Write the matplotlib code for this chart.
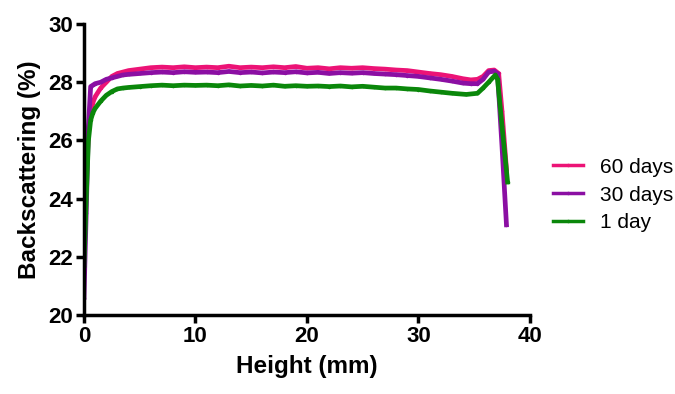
import matplotlib
matplotlib.use("Agg")
import matplotlib.pyplot as plt

plt.rcParams['font.family'] = ['Liberation Sans', 'DejaVu Sans']

labels = ["60 days", "30 days", "1 day"]
colors = ["#EC1376", "#8B0FA3", "#0A870A"]

x_60 = [0.0, 0.2, 0.4, 0.6, 0.8, 1.0, 1.5, 2.0, 2.5, 3.0, 3.5, 4.0, 5.0, 6.0, 7.0, 8.0,
        9.0, 10.0, 11.0, 12.0, 13.0, 14.0, 15.0, 16.0, 17.0, 18.0, 19.0, 20.0, 21.0,
        22.0, 23.0, 24.0, 25.0, 26.0, 27.0, 28.0, 29.0, 30.0, 31.0, 32.0, 33.0, 34.0,
        34.7, 35.3, 35.8, 36.3, 36.8, 37.2, 37.5, 37.9]
y_60 = [22.0, 24.6, 26.3, 27.0, 27.3, 27.5, 27.8, 28.0, 28.2, 28.3, 28.35, 28.4, 28.45,
        28.5, 28.52, 28.5, 28.53, 28.5, 28.52, 28.5, 28.55, 28.5, 28.52, 28.5, 28.53,
        28.5, 28.54, 28.48, 28.5, 28.46, 28.5, 28.48, 28.5, 28.47, 28.45, 28.42, 28.4,
        28.35, 28.3, 28.26, 28.2, 28.12, 28.08, 28.1, 28.2, 28.4, 28.42, 28.3, 27.0, 25.0]

x_30 = [0.0, 0.2, 0.4, 0.6, 0.8, 1.0, 1.5, 2.0, 2.5, 3.0, 3.5, 4.0, 5.0, 6.0, 7.0, 8.0,
        9.0, 10.0, 11.0, 12.0, 13.0, 14.0, 15.0, 16.0, 17.0, 18.0, 19.0, 20.0, 21.0,
        22.0, 23.0, 24.0, 25.0, 26.0, 27.0, 28.0, 29.0, 30.0, 31.0, 32.0, 33.0, 34.0,
        34.7, 35.3, 35.8, 36.3, 36.8, 37.1, 37.5, 37.9]
y_30 = [20.6, 23.5, 26.5, 27.85, 27.9, 27.95, 28.0, 28.1, 28.15, 28.2, 28.25, 28.27,
        28.3, 28.33, 28.35, 28.33, 28.36, 28.34, 28.35, 28.33, 28.37, 28.33, 28.35,
        28.32, 28.35, 28.33, 28.36, 28.32, 28.34, 28.3, 28.33, 28.31, 28.33, 28.3, 28.28,
        28.26, 28.23, 28.2, 28.15, 28.1, 28.04, 27.97, 27.95, 27.95, 28.1, 28.35, 28.38,
        28.3, 25.8, 23.1]

x_1 = [0.0, 0.2, 0.4, 0.6, 0.8, 1.0, 1.5, 2.0, 2.5, 3.0, 3.5, 4.0, 5.0, 6.0, 7.0, 8.0,
       9.0, 10.0, 11.0, 12.0, 13.0, 14.0, 15.0, 16.0, 17.0, 18.0, 19.0, 20.0, 21.0,
       22.0, 23.0, 24.0, 25.0, 26.0, 27.0, 28.0, 29.0, 30.0, 31.0, 32.0, 33.0, 34.3,
       35.3, 35.8, 36.3, 36.9, 37.1, 37.5, 38.0]
y_1 = [21.7, 24.0, 26.0, 26.7, 26.95, 27.1, 27.35, 27.55, 27.68, 27.77, 27.8, 27.82,
       27.85, 27.88, 27.9, 27.88, 27.9, 27.89, 27.9, 27.88, 27.91, 27.87, 27.89, 27.87,
       27.9, 27.86, 27.88, 27.86, 27.87, 27.85, 27.87, 27.84, 27.86, 27.83, 27.8, 27.8,
       27.77, 27.75, 27.7, 27.66, 27.62, 27.58, 27.62, 27.8, 28.0, 28.25, 28.1, 26.5,
       24.57]

x_ticks = [0, 10, 20, 30, 40]
y_ticks = [20, 22, 24, 26, 28, 30]

fig = plt.figure(figsize=(6.75, 3.94), dpi=100)
ax = fig.add_axes([0.1244, 0.2005, 0.6606, 0.7385])

series = [(x_60, y_60), (x_30, y_30), (x_1, y_1)]
for (xs, ys), lab, c in zip(series, labels, colors):
    ax.plot(xs, ys, color=c, lw=3.4, marker='.', markersize=3, label=lab,
            solid_joinstyle='round')

ax.set_xlim(0, 40)
ax.set_ylim(20, 30)
ax.set_xticks(x_ticks)
ax.set_yticks(y_ticks)
for s in ['top', 'right']:
    ax.spines[s].set_visible(False)
for s in ['left', 'bottom']:
    ax.spines[s].set_linewidth(2.5)
ax.tick_params(width=2.5, length=6, labelsize=16, pad=2)
for t in ax.get_xticklabels() + ax.get_yticklabels():
    t.set_fontweight('bold')
ax.set_xlabel("Height (mm)", fontsize=17.5, fontweight='bold', labelpad=6)
ax.set_ylabel("Backscattering (%)", fontsize=17.5, fontweight='bold', labelpad=5)

leg = ax.legend(loc='center left', bbox_to_anchor=(0.819, 0.505),
                bbox_transform=fig.transFigure, frameon=False, borderpad=0,
                borderaxespad=0, fontsize=15, handlelength=1.45,
                handletextpad=0.8, labelspacing=0.42)
for h in leg.get_lines():
    h.set_linewidth(2.5)

fig.savefig("out.png", dpi=100)
